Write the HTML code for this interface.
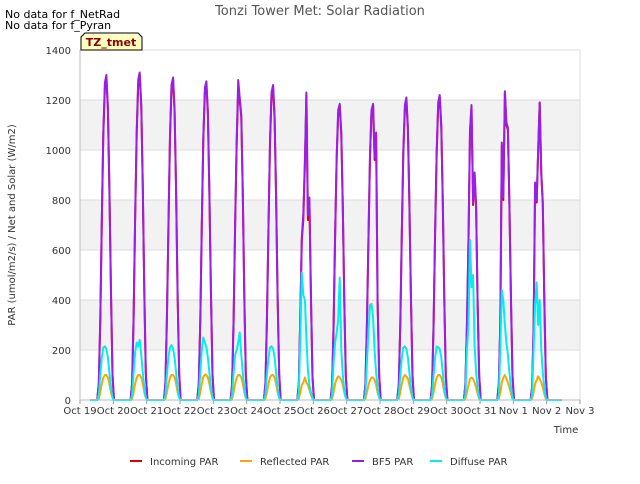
<!DOCTYPE html>
<html><head><meta charset="utf-8"><style>
body{margin:0;background:#fff;font-family:"DejaVu Sans","Liberation Sans",sans-serif}
svg text{font-family:"DejaVu Sans","Liberation Sans",sans-serif}
</style></head><body>
<svg id="c" width="640" height="480" viewBox="0 0 640 480">
<rect x="0" y="0" width="640" height="480" fill="#fff"/>
<g id="bands"></g><g id="grid"></g><g id="series"></g><g id="axes"></g>
<text x="320" y="15" text-anchor="middle" font-size="13" fill="#555">Tonzi Tower Met: Solar Radiation</text>
<text x="5" y="18" font-size="11" fill="#000">No data for f_NetRad</text>
<text x="5" y="29" font-size="11" fill="#000">No data for f_Pyran</text>
<g>
<path d="M81,50 L81,37 L85,33 L138,33 L142,37 L142,50 Z" fill="#ffffc0" stroke="#000" stroke-width="1"/>
<text x="111" y="46" text-anchor="middle" font-size="11" font-weight="bold" fill="#8b0000">TZ_tmet</text>
</g>
<text x="15" y="225" transform="rotate(-90 15 225)" text-anchor="middle" font-size="10" fill="#333">PAR (umol/m2/s) / Net and Solar (W/m2)</text>
<text x="566" y="433" text-anchor="middle" font-size="10" fill="#333">Time</text>
<g id="legend"></g>
</svg>
<script>
const yTicks=[0,200,400,600,800,1000,1200,1400];
const xTickLabels=["Oct 19","Oct 20","Oct 21","Oct 22","Oct 23","Oct 24","Oct 25","Oct 26","Oct 27","Oct 28","Oct 29","Oct 30","Oct 31","Nov 1","Nov 2","Nov 3"];
const hours=[13.5,14.6,15.7,16.8,17.9,19,20.1,21.2,22.3,23.4,24.5];
const incoming=[
[65,320,710,1060,1250,1290,1160,840,425,100,0],
[65,325,715,1065,1260,1300,1170,845,430,105,0],
[64,320,705,1050,1240,1280,1150,830,420,100,0],
[63,315,695,1040,1230,1265,1140,820,415,100,0],
[63,315,690,1030,1240,1200,1130,820,415,100,0],
[62,310,690,1025,1215,1250,1125,810,410,100,0],
[60,330,640,720,940,1220,720,800,400,90,0],
[59,295,650,970,1145,1180,1060,770,390,95,0],
[59,295,650,970,1150,1180,960,1060,390,95,0],
[60,300,660,985,1165,1200,1080,780,395,95,0],
[60,300,665,990,1175,1210,1090,785,400,95,0],
[60,290,640,1070,1170,780,900,770,390,95,0],
[60,300,1020,800,1230,1100,1080,780,395,95,0],
[50,280,860,790,1000,1190,900,780,400,95,0]];
const bf5=[
[70,330,720,1070,1270,1300,1170,850,430,105,0],
[70,335,725,1075,1280,1310,1180,855,435,110,0],
[69,330,715,1060,1260,1290,1160,840,425,105,0],
[68,325,705,1050,1250,1275,1150,830,420,105,0],
[68,325,700,1040,1280,1210,1140,830,420,105,0],
[67,320,700,1035,1230,1260,1135,820,415,105,0],
[65,340,650,740,960,1230,740,810,405,95,0],
[64,305,660,980,1160,1185,1070,780,395,100,0],
[64,305,660,980,1160,1185,970,1070,395,100,0],
[65,310,670,995,1180,1210,1090,790,400,100,0],
[65,310,675,1000,1190,1220,1100,795,405,100,0],
[65,300,650,1080,1180,790,910,780,395,100,0],
[65,310,1030,810,1235,1110,1090,790,400,100,0],
[55,290,870,800,1010,1190,910,790,405,100,0]];
const diffuse=[
[20,100,170,210,215,205,170,110,50,10,0],
[20,110,190,230,215,240,180,110,50,10,0],
[20,100,175,210,220,205,170,110,50,10,0],
[20,110,200,250,230,210,170,110,50,10,0],
[20,110,180,200,230,270,180,110,50,10,0],
[20,100,170,210,215,205,170,110,50,10,0],
[30,250,510,420,400,250,120,60,30,10,0],
[20,150,230,270,320,490,200,100,40,10,0],
[20,150,280,380,385,330,200,110,50,10,0],
[20,100,170,210,215,205,170,110,50,10,0],
[20,100,170,215,210,205,170,110,50,10,0],
[20,200,300,640,450,500,220,110,50,10,0],
[20,200,440,400,300,230,180,110,50,10,0],
[20,200,380,470,300,400,200,110,50,10,0]];
const reflected=[
[5,30,65,90,100,100,90,65,30,8,0],
[5,30,65,90,100,100,90,65,30,8,0],
[5,30,65,90,100,100,90,65,30,8,0],
[5,30,65,92,102,100,90,65,30,8,0],
[5,30,65,90,100,100,90,65,30,8,0],
[5,30,65,90,100,100,90,65,30,8,0],
[5,30,60,70,90,70,60,40,20,5,0],
[5,30,65,85,95,90,80,60,30,8,0],
[5,30,60,80,90,90,80,60,30,8,0],
[5,30,65,90,100,95,85,60,30,8,0],
[5,30,65,90,100,100,90,65,30,8,0],
[5,30,60,85,90,85,70,50,25,5,0],
[5,30,70,90,100,85,70,50,25,5,0],
[5,30,65,80,95,85,70,50,25,5,0]];
const dataStart=0.3, dataEnd=14.45;
const X0=80,X1=580,Y0=400,Y1=50;
function xs(d){return X0+(d/15)*(X1-X0);}
function ys(v){return Y0-(v/1400)*(Y0-Y1);}
const NS="http://www.w3.org/2000/svg";
function mk(t,a,p){const e=document.createElementNS(NS,t);for(const k in a)e.setAttribute(k,a[k]);p.appendChild(e);return e;}
const bands=document.getElementById('bands'),grid=document.getElementById('grid'),axes=document.getElementById('axes'),series=document.getElementById('series'),legend=document.getElementById('legend');
[[200,400],[600,800],[1000,1200]].forEach(b=>{const r=mk('rect',{x:X0,y:ys(b[1]),width:X1-X0,height:ys(b[0])-ys(b[1]),fill:'#f2f2f2'},bands);

});
yTicks.forEach(v=>{const l=mk('line',{x1:X0,x2:X1,y1:ys(v),y2:ys(v),stroke:'#dcdcdc','stroke-width':1},grid);


const t=mk('text',{x:71,y:ys(v)+4,'text-anchor':'end','font-size':10,fill:'#333'},axes);t.textContent=v;

});
xTickLabels.forEach((s,i)=>{const l=mk('line',{x1:xs(i),x2:xs(i),y1:Y0,y2:Y0+4,stroke:'#999'},axes);


const t=mk('text',{x:xs(i),y:414,'text-anchor':'middle','font-size':10,fill:'#333'},axes);t.textContent=s;

});
mk('line',{x1:X1,x2:X1,y1:Y1,y2:Y0,stroke:'#dcdcdc'},grid);
mk('line',{x1:X0,x2:X0,y1:Y1,y2:Y0,stroke:'#bbb'},axes);
mk('line',{x1:X0,x2:X1,y1:Y0,y2:Y0,stroke:'#bbb'},axes);
function draw(arr,color,name){let pts=[[dataStart,0]];arr.forEach((day,i)=>{pts.push([i+12.4/24,0]);hours.forEach((h,j)=>pts.push([i+h/24,day[j]]));pts.push([i+25.4/24,0]);});pts.push([dataEnd,0]);
const p=mk('path',{d:'M'+pts.map(q=>xs(q[0]).toFixed(1)+','+ys(q[1]).toFixed(1)).join('L'),fill:'none',stroke:color,'stroke-width':2,'stroke-linejoin':'round'},series);

}
draw(incoming,'#dd0000','incoming-par-line');
draw(reflected,'#ffa500','reflected-par-line');
draw(bf5,'#9b1ee8','bf5-par-line');
draw(diffuse,'#00eeee','diffuse-par-line');
const leg=[["Incoming PAR","#dd0000",130],["Reflected PAR","#ffa500",240],["BF5 PAR","#9b1ee8",352],["Diffuse PAR","#00eeee",430]];
leg.forEach(e=>{const g=mk('g',{},legend);


mk('line',{x1:e[2],x2:e[2]+12,y1:461,y2:461,stroke:e[1],'stroke-width':2},g);
const t=mk('text',{x:e[2]+20,y:465,'font-size':10,fill:'#333'},g);t.textContent=e[0];});
</script>
</body></html>
